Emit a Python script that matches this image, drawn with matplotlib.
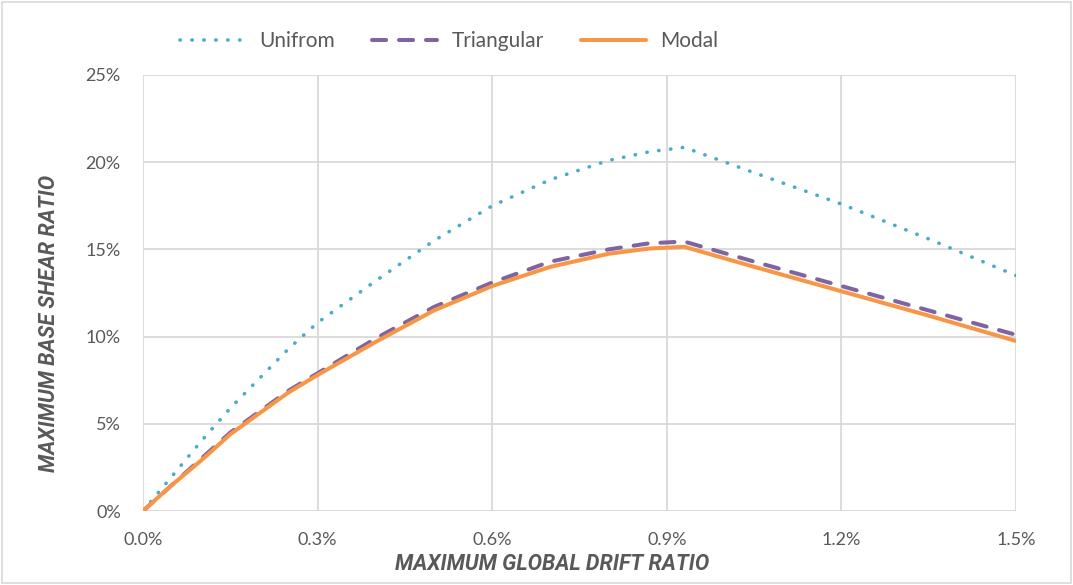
import matplotlib.pyplot as plt
from matplotlib.patches import Rectangle
from matplotlib.ticker import FuncFormatter

# drift ratio (%) and base shear ratio (%)
drift = [0.0, 0.05, 0.1, 0.15, 0.2, 0.25, 0.3, 0.4, 0.5, 0.6, 0.7, 0.8, 0.87, 0.93,
         1.05, 1.2, 1.35, 1.5]
uniform = [0.0, 2.0, 4.0, 5.9, 7.6, 9.3, 10.8, 13.2, 15.5, 17.5, 19.0, 20.1, 20.6, 20.85,
           19.4, 17.6, 15.6, 13.5]
triangular = [0.0, 1.5, 3.0, 4.5, 5.7, 6.9, 7.9, 9.9, 11.7, 13.1, 14.3, 15.0, 15.35, 15.45,
              14.3, 12.9, 11.5, 10.1]
modal = [0.0, 1.5, 2.9, 4.4, 5.6, 6.8, 7.8, 9.7, 11.5, 12.9, 14.0, 14.75, 15.05, 15.15,
         14.0, 12.6, 11.2, 9.75]

x_ticks = [0.0, 0.3, 0.6, 0.9, 1.2, 1.5]
y_ticks = [0, 5, 10, 15, 20, 25]

plt.rcParams['font.family'] = ['Lato', 'DejaVu Sans']
grey = '#595959'

fig = plt.figure(figsize=(10.73, 5.85), dpi=100)
ax = fig.add_axes([143 / 1073, 1 - 511 / 585, 873 / 1073, 436 / 585])

ax.plot(drift, uniform, color='#4BACC6', lw=2.6, linestyle=(0, (0.1, 3.2)),
        dash_capstyle='round', label='Unifrom', zorder=3)
ax.plot(drift, triangular, color='#8064A2', lw=2.9, linestyle=(0, (3.5, 3.2)),
        dash_capstyle='round', label='Triangular', zorder=3)
ax.plot(drift, modal, color='#F79646', lw=2.9, solid_capstyle='round',
        label='Modal', zorder=4)

ax.set_xlim(0, 1.5)
ax.set_ylim(0, 25)
ax.set_xticks(x_ticks)
ax.set_yticks(y_ticks)
ax.xaxis.set_major_formatter(FuncFormatter(lambda v, p: f'{v:.1f}%'))
ax.yaxis.set_major_formatter(FuncFormatter(lambda v, p: f'{v:.0f}%'))
ax.grid(True, color='#D9D9D9', lw=1.3)
ax.set_axisbelow(True)
for s in ax.spines.values():
    s.set_visible(False)
ax.tick_params(length=0, labelsize=13, labelcolor=grey)
ax.tick_params(axis='x', pad=15)
ax.tick_params(axis='y', pad=16)

label_font = dict(family=['Roboto', 'DejaVu Sans'], fontsize=15.5, fontweight='bold',
                  style='italic', color=grey)
ax.set_xlabel('MAXIMUM GLOBAL DRIFT RATIO', **label_font)
ax.set_ylabel('MAXIMUM BASE SHEAR RATIO', **label_font)
# Excel puts the axis titles a little off-centre
ax.xaxis.set_label_coords(0.469, -0.097)
ax.yaxis.set_label_coords(-0.095, 0.431)

fig.legend(loc='center', bbox_to_anchor=(449 / 1073, 1 - 41 / 585), ncol=3,
           frameon=False, fontsize=15, labelcolor=grey, handlelength=3.1,
           columnspacing=1.8, handletextpad=0.7)

fig.patches.append(Rectangle((0.002, 0.004), 0.996, 0.992, transform=fig.transFigure,
                             fill=False, edgecolor='#D9D9D9', lw=1.2))

fig.savefig('out.png', dpi=100)
